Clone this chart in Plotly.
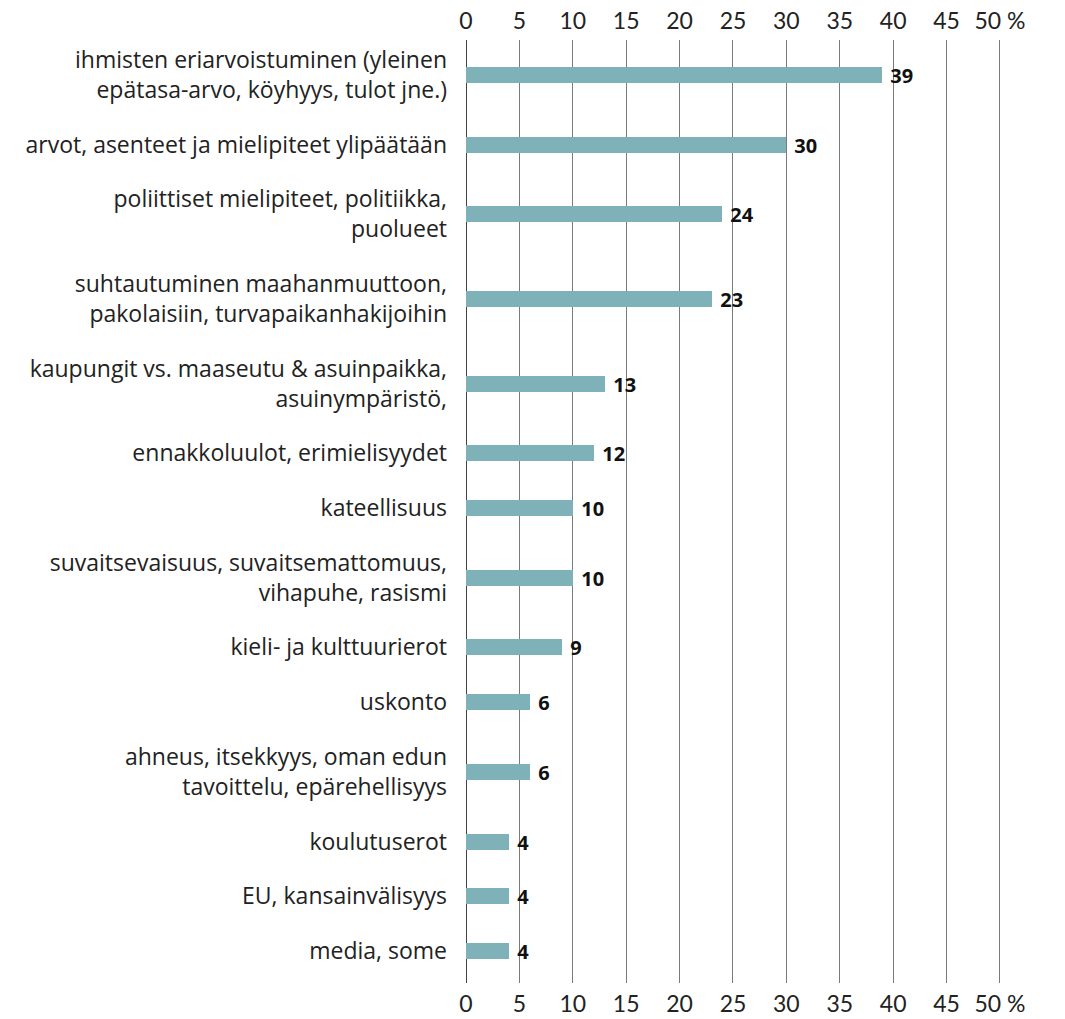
import plotly.graph_objects as go

categories = [
    "ihmisten eriarvoistuminen (yleinen<br>epätasa-arvo, köyhyys, tulot jne.)",
    "arvot, asenteet ja mielipiteet ylipäätään",
    "poliittiset mielipiteet, politiikka,<br>puolueet",
    "suhtautuminen maahanmuuttoon,<br>pakolaisiin, turvapaikanhakijoihin",
    "kaupungit vs. maaseutu & asuinpaikka,<br>asuinympäristö,",
    "ennakkoluulot, erimielisyydet",
    "kateellisuus",
    "suvaitsevaisuus, suvaitsemattomuus,<br>vihapuhe, rasismi",
    "kieli- ja kulttuurierot",
    "uskonto",
    "ahneus, itsekkyys, oman edun<br>tavoittelu, epärehellisyys",
    "koulutuserot",
    "EU, kansainvälisyys",
    "media, some",
]
values = [39, 30, 24, 23, 13, 12, 10, 10, 9, 6, 6, 4, 4, 4]
tick_vals = [0, 5, 10, 15, 20, 25, 30, 35, 40, 45, 50]
tick_text = ["0", "5", "10", "15", "20", "25", "30", "35", "40", "45", "50 %"]

# row positions: spacing grows with the number of label lines
lines = [c.count("<br>") + 1 for c in categories]
pos = [0.0]
for a, b in zip(lines[:-1], lines[1:]):
    pos.append(pos[-1] + 55 + 15 * (a + b - 2))

FONT = "Open Sans"
fig = go.Figure()
fig.add_trace(go.Bar(
    x=values, y=pos, orientation="h", width=16,
    marker=dict(color="#7fb1b9", line=dict(width=0)),
    text=["\u00a0" + str(v) for v in values], textposition="outside",
    textfont=dict(family=FONT, size=20, color="#111", weight="bold"),
    constraintext="none", cliponaxis=False,
    hoverinfo="skip",
))
fig.add_trace(go.Scatter(
    x=[0, 50], y=[pos[0], pos[-1]], xaxis="x2", mode="markers",
    marker=dict(opacity=0), hoverinfo="skip", showlegend=False,
))

axis_common = dict(
    tickmode="array", tickvals=tick_vals, ticktext=tick_text,
    showgrid=True, gridcolor="#7a7a7a", gridwidth=1,
    zeroline=True, zerolinecolor="#444", zerolinewidth=1,
    showline=False, ticks="", automargin=False,
    ticklabelstandoff=5,
    tickfont=dict(family="Lato", size=23, color="#222"),
    fixedrange=True,
)
fig.update_layout(
    width=1065, height=1019,
    margin=dict(l=466, r=64, t=40, b=36),
    paper_bgcolor="white", plot_bgcolor="white",
    showlegend=False, bargap=0,
    xaxis=dict(side="top", range=[0, 50.1], **axis_common),
    xaxis2=dict(side="bottom", overlaying="x", matches="x", **axis_common),
    yaxis=dict(
        range=[pos[-1] + 32, pos[0] - 35], tickmode="array", tickvals=pos, ticktext=categories,
        showgrid=False, zeroline=False, showline=False, ticks="", automargin=False,
        ticklabelstandoff=18, fixedrange=True,
        tickfont=dict(family=FONT, size=23, color="#222"),
    ),
)
fig.write_html("out.html", config={"displayModeBar": False},
               post_script="document.body.style.margin='0';")
